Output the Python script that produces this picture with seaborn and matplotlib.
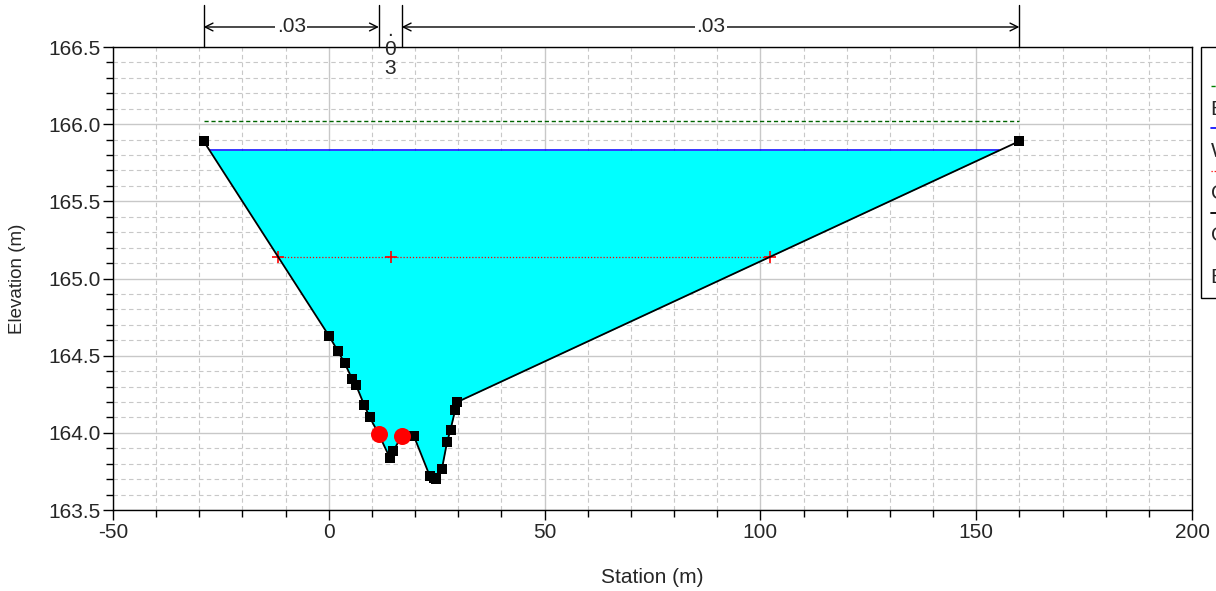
import numpy as np
import pandas as pd
import matplotlib
matplotlib.use("Agg")
import matplotlib.pyplot as plt
from matplotlib.ticker import MultipleLocator
from matplotlib.lines import Line2D
import seaborn as sns

# ---- data ----
station = [-29.0, 0.0, 2.1, 3.7, 5.4, 6.3, 8.2, 9.5, 11.6, 14.1, 14.9, 16.9,
           19.0, 19.7, 23.4, 24.3, 24.9, 26.2, 27.4, 28.2, 29.3, 29.8, 160.0]
elevation = [165.89, 164.63, 164.53, 164.45, 164.35, 164.31, 164.18, 164.10,
             163.99, 163.84, 163.88, 163.98, 163.98, 163.98, 163.72, 163.71,
             163.70, 163.765, 163.94, 164.02, 164.15, 164.20, 165.89]
bank_sta = [11.6, 16.9]
bank_elev = [163.99, 163.98]
ws_elev = 165.83
eg_elev = 166.02
eg_x = [-29.0, 160.0]
crit_elev = 165.14
crit_x = [-11.8, 14.4, 102.3]
n_breaks = [-29.0, 11.6, 16.9, 160.0]
n_values = [".03", ".03", ".03"]
legend_labels = ["EG  PF 1", "WS  PF 1", "Crit  PF 1", "Ground", "Bank Sta"]

sns.set_style("white")
plt.rcParams['font.family'] = ['Liberation Sans', 'DejaVu Sans']
plt.rcParams['axes.unicode_minus'] = False

fig = plt.figure(figsize=(12.16, 5.91), dpi=100)
ax = fig.add_axes([113/1216, 1-510/591, (1192-113)/1216, (510-47)/591])

ground = pd.DataFrame({"Station": station, "Elevation": elevation})

# water fill
gx = np.array(station)
gy = np.array(elevation)
ax.fill_between(gx, gy, ws_elev, where=gy <= ws_elev, interpolate=True,
                color="#00FFFF", linewidth=0, zorder=2)
left_x = np.interp(ws_elev, gy[:2][::-1], gx[:2][::-1])
right_x = np.interp(ws_elev, gy[-2:], gx[-2:])
sns.lineplot(x=[left_x, right_x], y=[ws_elev, ws_elev], color="#0000FF",
             linewidth=1.1, ax=ax, zorder=3, sort=False)

# EG line
ax.plot(eg_x, [eg_elev, eg_elev], color="#006400", linestyle=(0, (3, 2)),
        linewidth=1.0, zorder=3)
# Crit line
ax.plot(crit_x, [crit_elev]*len(crit_x), color="#FF0000", linestyle=(0, (1, 1.5)),
        linewidth=0.9, marker="+", markersize=9, markeredgewidth=1.2, zorder=3)

# Ground
sns.lineplot(data=ground, x="Station", y="Elevation", color="black",
             linewidth=1.3, ax=ax, zorder=4, sort=False)
sns.scatterplot(data=ground, x="Station", y="Elevation", color="black",
                marker="s", s=55, linewidth=0, ax=ax, zorder=5)
# Bank stations
sns.scatterplot(x=bank_sta, y=bank_elev, color="#FF0000", s=150, linewidth=0,
                ax=ax, zorder=6)

ax.set_xlim(-50, 200)
ax.set_ylim(163.5, 166.5)
ax.xaxis.set_major_locator(MultipleLocator(50))
ax.xaxis.set_minor_locator(MultipleLocator(10))
ax.yaxis.set_major_locator(MultipleLocator(0.5))
ax.yaxis.set_minor_locator(MultipleLocator(0.1))
ax.yaxis.set_major_formatter(matplotlib.ticker.FormatStrFormatter("%.1f"))
ax.grid(which="major", color="#c8c8c8", linestyle="-", linewidth=1.0, zorder=0)
ax.grid(which="minor", color="#c8c8c8", linestyle=(0, (4, 3)), linewidth=0.8, zorder=0)
ax.set_axisbelow(True)
ax.tick_params(which="both", direction="out", length=7, width=1, color="black",
               labelsize=15, left=True, bottom=True, pad=2)
ax.tick_params(which="minor", length=5)
for s in ax.spines.values():
    s.set_color("black")
    s.set_linewidth(1.0)
ax.set_xlabel("Station (m)", fontsize=15, labelpad=19)
ax.set_ylabel("Elevation (m)", fontsize=13.5, labelpad=16)

# Manning's n annotations
top = 166.5
vtop = top + 42/154.3
arr_y = top + 20/154.3
for xb in n_breaks:
    ax.plot([xb, xb], [top, vtop], color="black", linewidth=1.0, clip_on=False)
for i, val in enumerate(n_values):
    x0, x1 = n_breaks[i], n_breaks[i+1]
    if x1 - x0 > 10:
        ax.annotate("", xy=(x0, arr_y), xytext=(x1, arr_y),
                    arrowprops=dict(arrowstyle="<->", color="black", lw=1.0,
                                    shrinkA=0, shrinkB=0, mutation_scale=14),
                    annotation_clip=False)
        ax.text((x0+x1)/2, arr_y, val, ha="center", va="center", fontsize=15,
                bbox=dict(facecolor="white", edgecolor="none", pad=1), clip_on=False)
    else:
        ax.text((x0+x1)/2, top + 26/154.3, "\n".join(val), ha="center", va="top",
                fontsize=15, linespacing=1.0, clip_on=False)

# Legend (clipped at right edge, as in the reference): sample line row, then label row
samples = [
    Line2D([], [], color="#008000", linestyle=(0, (3, 2)), linewidth=1.0),
    Line2D([], [], color="#0000FF", linewidth=1.2),
    Line2D([], [], color="#FF0000", linestyle=(0, (1, 1.5)), linewidth=0.9),
    Line2D([], [], color="black", linewidth=1.3),
    Line2D([], [], color="#FF0000", marker="o", linestyle="none", markersize=10),
]
handles, labels = [], []
for h, lab in zip(samples, legend_labels):
    handles += [h, Line2D([], [], linestyle="none")]
    labels += [" ", lab]
leg = fig.legend(handles, labels, loc="upper left",
                 bbox_to_anchor=(1201/1216, 1-47/591), title="Legend",
                 fontsize=15, title_fontsize=15, frameon=True, fancybox=False,
                 edgecolor="black", framealpha=1, borderpad=0.5,
                 handlelength=3, handletextpad=-3.0, borderaxespad=0,
                 labelspacing=0.1)
leg.get_frame().set_linewidth(1.0)

fig.savefig("out.png", dpi=100)
